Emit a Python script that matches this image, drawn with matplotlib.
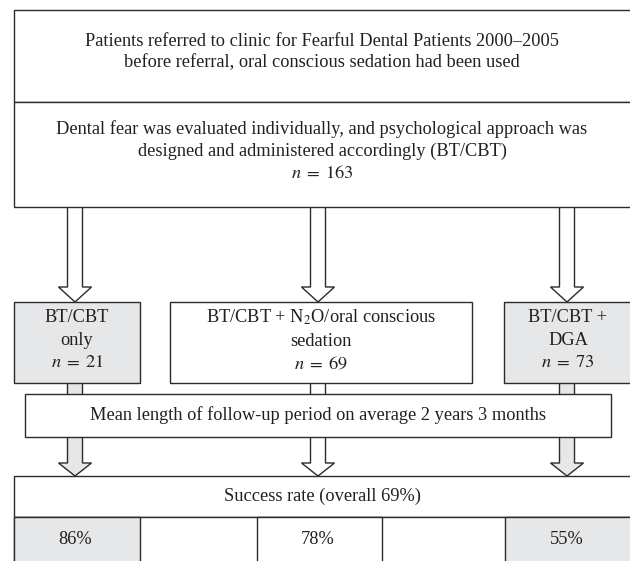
import matplotlib.pyplot as plt
from matplotlib.patches import Rectangle, Polygon

# flowchart contents
header_lines = ['Patients referred to clinic for Fearful Dental Patients 2000\u20132005',
                'before referral, oral conscious sedation had been used']
approach_lines = ['Dental fear was evaluated individually, and psychological approach was',
                  'designed and administered accordingly (BT/CBT)']
n_total = 163
groups = ['BT/CBT\nonly', 'BT/CBT + N$_2$O/oral conscious\nsedation', 'BT/CBT +\nDGA']
n_patients = [21, 69, 73]
group_shaded = [True, False, True]
followup_text = 'Mean length of follow-up period on average 2 years 3 months'
overall_success = 69
success = [86, 78, 55]

plt.rcParams['font.family'] = ['Liberation Serif', 'DejaVu Serif']
plt.rcParams['mathtext.fontset'] = 'stix'

W, H = 630, 561
fig = plt.figure(figsize=(W / 100, H / 100), dpi=100)
ax = fig.add_axes([0, 0, 1, 1])
ax.set_xlim(0, W)
ax.set_ylim(H, 0)
ax.axis('off')

EDGE = '#2b2b2b'
GREY = '#e6e7e8'
TXT = '#231f20'
FS = 13.2
LW = 1.0


def box(x0, y0, x1, y1, fill='white', z=2):
    ax.add_patch(Rectangle((x0, y0), x1 - x0, y1 - y0, facecolor=fill,
                           edgecolor=EDGE, lw=LW, zorder=z))


def arrow(xc, y0, y1, head_len, fill='white', z=1):
    sw, hw = 7.5, 16.5
    yh = y1 - head_len
    pts = [(xc - sw, y0), (xc + sw, y0), (xc + sw, yh), (xc + hw, yh),
           (xc, y1), (xc - hw, yh), (xc - sw, yh)]
    ax.add_patch(Polygon(pts, closed=True, facecolor=fill, edgecolor=EDGE,
                         lw=LW, zorder=z, joinstyle='miter'))


def label(x, y, s, ls=1.3):
    ax.text(x, y, s, ha='center', va='center', fontsize=FS, color=TXT,
            linespacing=ls, zorder=5)


def n_text(n):
    return r'$n\;=\;%d$' % n


# top two boxes
box(14, 9.5, 632, 102)
box(14, 102, 632, 207)
label(322, 52, '\n'.join(header_lines))
label(322, 151, '\n'.join(approach_lines) + '\n' + n_text(n_total), ls=1.38)

# branches
arrow_x = [75, 318, 567]
box_x = [(14, 140), (170, 472), (504, 632)]
cell_x = [(14, 140), (257, 382), (505, 632)]

for i in range(len(groups)):
    fill = GREY if group_shaded[i] else 'white'
    arrow(arrow_x[i], 207, 302, 15)
    arrow(arrow_x[i], 383, 476, 13, fill=fill)
    x0, x1 = box_x[i]
    box(x0, 302, x1, 383, fill=fill)
    label((x0 + x1) / 2, 340, groups[i] + '\n' + n_text(n_patients[i]), ls=1.45)

# follow-up box
box(25, 394, 611, 437)
label(318, 415, followup_text)

# success rate table
box(14, 476, 632, 517)
label(322, 496, 'Success rate (overall %d%%)' % overall_success)
box(14, 517, 632, 566)
for i in range(len(success)):
    fill = GREY if group_shaded[i] else 'white'
    x0, x1 = cell_x[i]
    box(x0, 517, x1, 566, fill=fill, z=3)
    label(arrow_x[i], 539, '%d%%' % success[i])

fig.savefig('out.png', dpi=100)
